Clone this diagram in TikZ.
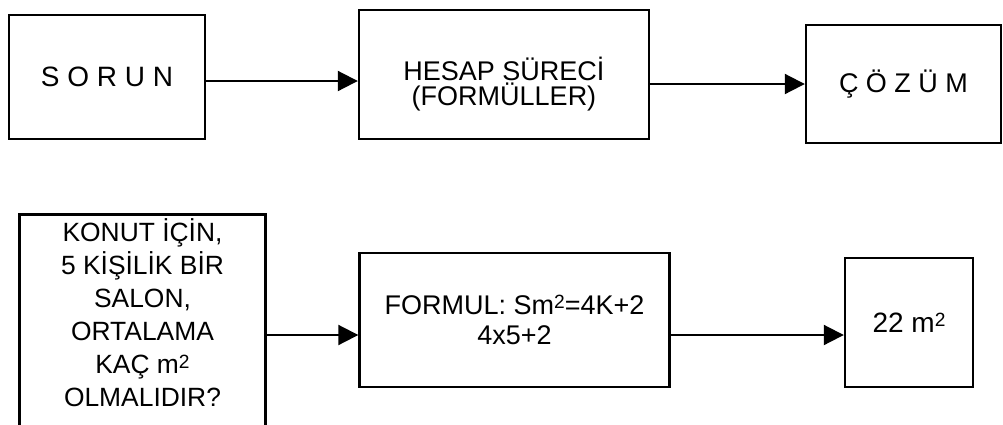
\documentclass[tikz,border=0pt]{standalone}
\usepackage{fontspec}
\setmainfont{Liberation Sans}
\usetikzlibrary{arrows.meta}
\newcommand{\kare}{\raisebox{0.22em}{\fontsize{9.6}{9.6}\selectfont 2}}

\begin{document}
\begin{tikzpicture}[
    x=0.5pt, y=-0.5pt,
    every node/.style={inner sep=0pt, align=center, font=\fontsize{13}{15}\selectfont},
    box/.style={draw, line width=1.2pt},
    arr/.style={-{Triangle[length=10pt, width=10pt]}, line width=1pt}
  ]
  \useasboundingbox (0,0) rectangle (1003,424);

  % top row
  \node[box, minimum width=98pt, minimum height=62pt, font=\fontsize{14}{16}\selectfont] (sorun) at (107,77) {S O R U N};
  \node[box, minimum width=145pt, minimum height=64.5pt, text height=34pt, font=\fontsize{13.5}{12.5}\selectfont] (hesap) at (504,74.5) {HESAP SÜRECİ\\(FORMÜLLER)};
  \node[box, minimum width=97.5pt, minimum height=59pt, font=\fontsize{13.5}{16}\selectfont] (cozum) at (903.5,84) {Ç Ö Z Ü M};

  \coordinate (a1) at ([yshift=-2pt]sorun.east);
  \draw[arr] (a1) -- (a1 -| hesap.west);
  \draw[arr] (cozum.west -| hesap.east) -- (cozum.west);

  % bottom row
  \node[minimum width=122.5pt, minimum height=98pt, font=\fontsize{13.2}{16.5}\selectfont] (soru) at (142.5,313)
    {KONUT İÇİN,\\5 KİŞİLİK BİR\\SALON,\\ORTALAMA\\KAÇ m\kare\\OLMALIDIR?};
  \draw[line width=1.2pt] ([yshift=-10pt]soru.south west) -- (soru.north west) -- (soru.north east) -- ([yshift=-10pt]soru.south east);
  \node[box, minimum width=155pt, minimum height=67pt, font=\fontsize{13.5}{15}\selectfont] (formul) at (514.5,320) {FORMUL: Sm\kare=4K+2\\4x5+2};
  \node[box, minimum width=64pt, minimum height=64.5pt, font=\fontsize{14}{16}\selectfont] (sonuc) at (909,322.5) {22 m\kare};

  \coordinate (a3) at ([yshift=-7.5pt]formul.west);
  \draw[arr] (a3 -| soru.east) -- (a3);
  \draw[arr] (a3 -| formul.east) -- (a3 -| sonuc.west);
\end{tikzpicture}
\end{document}
